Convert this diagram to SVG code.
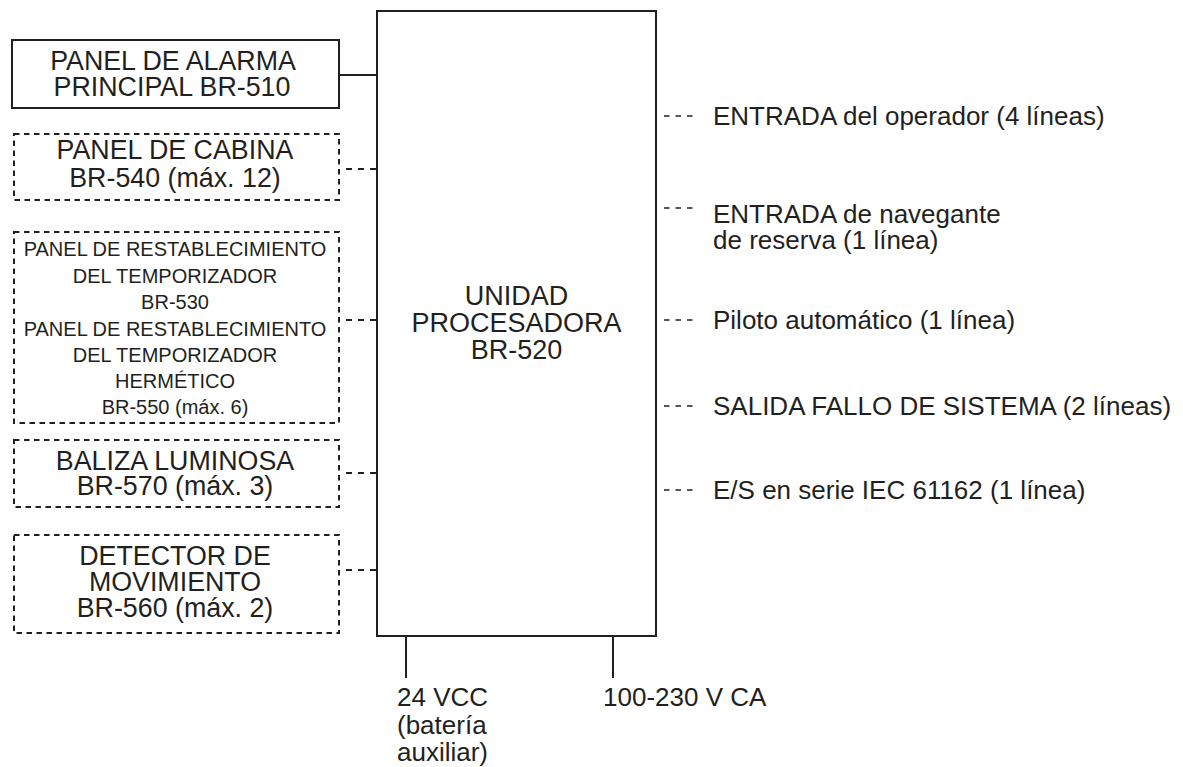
<svg xmlns="http://www.w3.org/2000/svg" width="1183" height="767" viewBox="0 0 1183 767">
<style>
text{font-family:"Liberation Sans",Arial,sans-serif;fill:#231f20;font-size:26px}
.c{text-anchor:middle}
.b{font-size:26.8px}
.s{font-size:20px}
.box{fill:none;stroke:#231f20;stroke-width:2}
.dbox{fill:none;stroke:#231f20;stroke-width:2;stroke-dasharray:5.5 4.5}
.w{stroke:#231f20;stroke-width:2;fill:none}
.dl{stroke:#231f20;stroke-width:2;fill:none;stroke-dasharray:6 6}
.dr{stroke:#231f20;stroke-width:1.5;fill:none;stroke-dasharray:5.5 6}
</style>
<rect width="1183" height="767" fill="#fff"/>
<g id="connectors">
<line class="w" x1="339" y1="75" x2="377" y2="75"/>
<line class="dl" x1="346" y1="169" x2="377" y2="169"/>
<line class="dl" x1="346" y1="320" x2="377" y2="320"/>
<line class="dl" x1="346" y1="473" x2="377" y2="473"/>
<line class="dl" x1="346" y1="570" x2="377" y2="570"/>
<line class="dr" x1="664" y1="116" x2="693" y2="116"/>
<line class="dr" x1="664" y1="208" x2="693" y2="208"/>
<line class="dr" x1="664" y1="320" x2="693" y2="320"/>
<line class="dr" x1="664" y1="406" x2="693" y2="406"/>
<line class="dr" x1="664" y1="490" x2="693" y2="490"/>
<line class="w" x1="406" y1="636" x2="406" y2="678"/>
<line class="w" x1="613" y1="636" x2="613" y2="678"/>
</g>
<g id="main-unit">
<rect class="box" x="377" y="11" width="279" height="625"/>
<text class="c" x="516.5" y="305" style="font-size:27px">UNIDAD</text>
<text class="c" x="516.5" y="332" style="font-size:27px">PROCESADORA</text>
<text class="c" x="516.5" y="359" style="font-size:27px">BR-520</text>
</g>
<g id="br510">
<rect class="box" x="12" y="40" width="327" height="68"/>
<text class="c b" x="173" y="70">PANEL DE ALARMA</text>
<text class="c b" x="172" y="96">PRINCIPAL BR-510</text>
</g>
<g id="br540">
<rect class="dbox" x="14" y="134" width="325" height="66"/>
<text class="c b" x="175" y="159">PANEL DE CABINA</text>
<text class="c b" x="175" y="187">BR-540 (máx. 12)</text>
</g>
<g id="br530-550">
<rect class="dbox" x="14" y="232" width="325" height="191"/>
<text class="c s" x="175" y="256">PANEL DE RESTABLECIMIENTO</text>
<text class="c s" x="175" y="282.5">DEL TEMPORIZADOR</text>
<text class="c s" x="175" y="309">BR-530</text>
<text class="c s" x="175" y="335.5">PANEL DE RESTABLECIMIENTO</text>
<text class="c s" x="175" y="362">DEL TEMPORIZADOR</text>
<text class="c s" x="175" y="388">HERMÉTICO</text>
<text class="c s" x="175" y="414">BR-550 (máx. 6)</text>
</g>
<g id="br570">
<rect class="dbox" x="14" y="440" width="325" height="67"/>
<text class="c b" x="175" y="470">BALIZA LUMINOSA</text>
<text class="c b" x="175" y="495">BR-570 (máx. 3)</text>
</g>
<g id="br560">
<rect class="dbox" x="14" y="535" width="325" height="98"/>
<text class="c b" x="175" y="565">DETECTOR DE</text>
<text class="c b" x="175" y="591">MOVIMIENTO</text>
<text class="c b" x="175" y="617">BR-560 (máx. 2)</text>
</g>
<g id="right-labels">
<text x="713" y="125">ENTRADA del operador (4 líneas)</text>
<text x="713" y="223">ENTRADA de navegante</text>
<text x="713" y="249">de reserva (1 línea)</text>
<text x="713" y="329">Piloto automático (1 línea)</text>
<text x="713" y="415">SALIDA FALLO DE SISTEMA (2 líneas)</text>
<text x="713" y="499">E/S en serie IEC 61162 (1 línea)</text>
</g>
<g id="power-labels">
<text x="397" y="706">24 VCC</text>
<text x="397" y="734">(batería</text>
<text x="397" y="761">auxiliar)</text>
<text x="603" y="706">100-230 V CA</text>
</g>
</svg>
